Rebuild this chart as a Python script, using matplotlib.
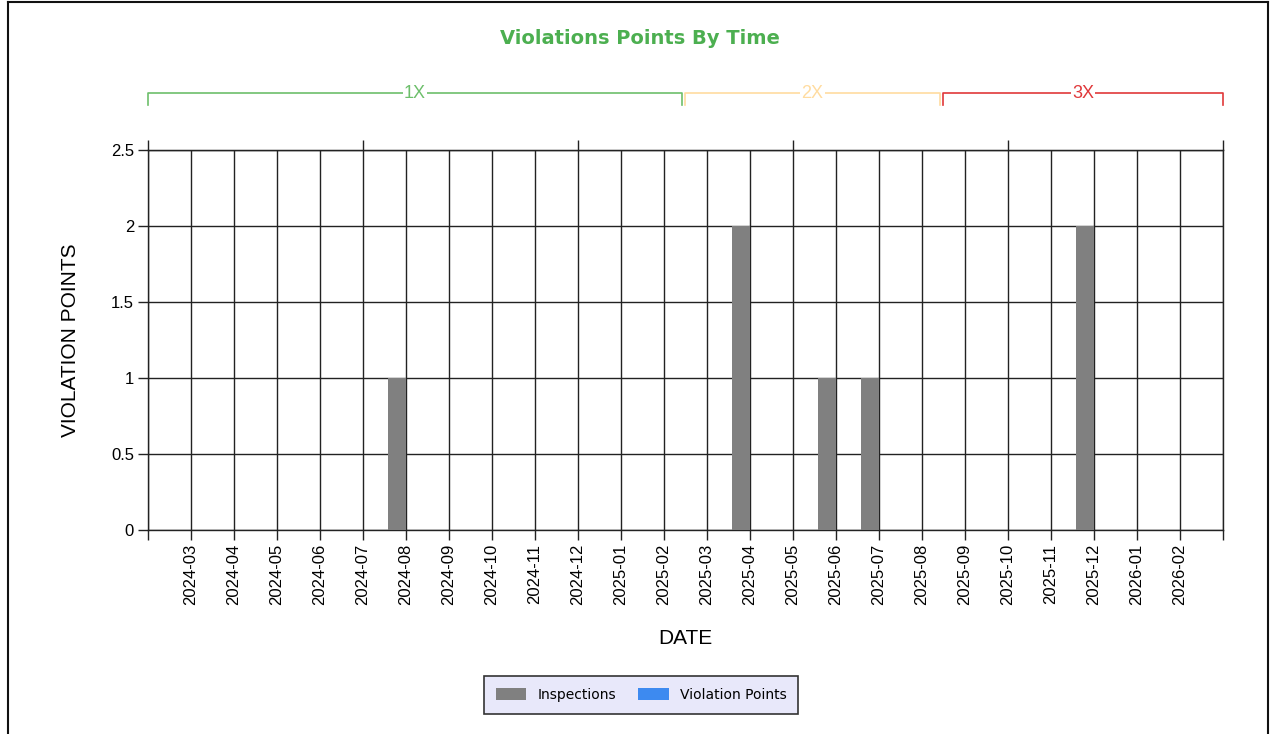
import matplotlib
matplotlib.use("Agg")
import matplotlib.pyplot as plt
from matplotlib.patches import Patch
from matplotlib.lines import Line2D
from matplotlib.transforms import blended_transform_factory

months = ['2024-03', '2024-04', '2024-05', '2024-06', '2024-07', '2024-08',
          '2024-09', '2024-10', '2024-11', '2024-12', '2025-01', '2025-02',
          '2025-03', '2025-04', '2025-05', '2025-06', '2025-07', '2025-08',
          '2025-09', '2025-10', '2025-11', '2025-12', '2026-01', '2026-02']
inspections = [0, 0, 0, 0, 0, 1, 0, 0, 0, 0, 0, 0,
               0, 2, 0, 1, 1, 0, 0, 0, 0, 2, 0, 0]
violation_points = [0] * 24

# multiplier bands along the top (start, end in month-slot units)
bands = ['1X', '2X', '3X']
band_start = [0, 12.49, 18.49]
band_end = [12.42, 18.42, 25]
band_colors = ['#6dbf6b', '#ffdca0', '#e0383a']

yticks = [0, 0.5, 1, 1.5, 2, 2.5]
ytick_labels = ['0', '0.5', '1', '1.5', '2', '2.5']

axis_font = 'Liberation Sans'


def main():
    fig = plt.figure(figsize=(12.71, 7.34), dpi=100)
    ax = fig.add_axes([148 / 1271, 1 - 530 / 734, 1075 / 1271, 380 / 734])

    pos = list(range(1, len(months) + 1))
    ax.bar(pos, inspections, width=-0.42, align='edge', color='#808080', zorder=3)
    ax.bar(pos, violation_points, width=0.42, align='edge', color='#3d8af0', zorder=3)

    ax.set_xlim(0, 25)
    ax.set_ylim(0, 2.5)
    ax.set_xticks([0] + pos + [25])
    ax.set_xticklabels([''] + months + [''], rotation=90, fontsize=12,
                       family=axis_font)
    ax.set_yticks(yticks)
    ax.set_yticklabels(ytick_labels, fontsize=12, family=axis_font)
    ax.tick_params(length=7, width=1, color='#222222', pad=3)
    ax.grid(True, color='#222222', linewidth=1, zorder=0)
    ax.set_axisbelow(True)
    for s in ax.spines.values():
        s.set_color('#222222')
        s.set_linewidth(1)

    top = ax.secondary_xaxis('top')
    top.set_xticks(range(0, 26, 5))
    top.set_xticklabels([])
    top.tick_params(length=7, width=1, color='#222222')
    top.spines['top'].set_color('#222222')

    ax.set_xlabel('DATE', fontsize=15, family=axis_font, labelpad=17)
    ax.set_ylabel('VIOLATION POINTS', fontsize=15, family=axis_font, labelpad=22)

    fig.text(640 / 1271, 1 - 38 / 734, 'Violations Points By Time', ha='center',
             va='center', fontsize=14, fontweight='bold', color='#4caf50')

    # brackets for 1X / 2X / 3X
    tr = blended_transform_factory(ax.transData, fig.transFigure)
    y_line = 1 - 93 / 734
    y_foot = 1 - 105 / 734
    for name, x0, x1, c in zip(bands, band_start, band_end, band_colors):
        ax.plot([x0, x0, x1, x1], [y_foot, y_line, y_line, y_foot], color=c,
                lw=1.2, transform=tr, clip_on=False)
        ax.text((x0 + x1) / 2, y_line, name, color=c, fontsize=13, family=axis_font,
                ha='center', va='center', transform=tr,
                bbox=dict(facecolor='white', edgecolor='none', pad=1))

    handles = [Patch(facecolor='#808080', label='Inspections'),
               Patch(facecolor='#3d8af0', label='Violation Points')]
    leg = fig.legend(handles=handles, loc='center', ncol=2,
                     bbox_to_anchor=(641 / 1271, 1 - 695 / 734),
                     fontsize=10, frameon=True, fancybox=False,
                     facecolor='#e8e8fa', edgecolor='#333333', framealpha=1,
                     handlelength=2.2, handleheight=1.0, columnspacing=1.6,
                     borderpad=0.85)
    leg.get_frame().set_linewidth(1.2)

    # outer border (left, top, right)
    for xs, ys in [([8 / 1271, 8 / 1271], [0, 1 - 2 / 734]),
                   ([8 / 1271, 1268 / 1271], [1 - 2 / 734, 1 - 2 / 734]),
                   ([1268 / 1271, 1268 / 1271], [0, 1 - 2 / 734])]:
        fig.add_artist(Line2D(xs, ys, color='#111111', lw=1.5))

    fig.savefig('out.png', dpi=100)


if __name__ == "__main__":
    main()
